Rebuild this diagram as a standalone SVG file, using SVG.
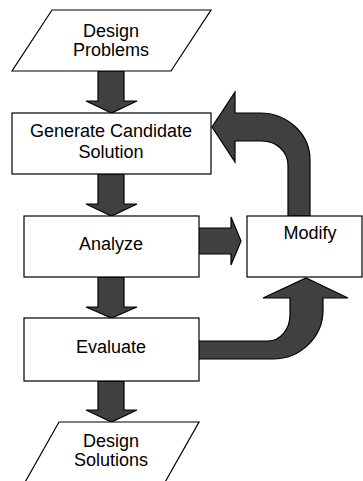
<svg xmlns="http://www.w3.org/2000/svg" width="363" height="481" viewBox="0 0 363 481">
<style>
.box{fill:#fff;stroke:#000;stroke-width:1.2}
.arr{fill:#404040;stroke:#000;stroke-width:1.2;stroke-linejoin:miter}
text{font-family:"Liberation Sans",Arial,sans-serif;font-size:18px;fill:#000;text-anchor:middle}
</style>
<rect width="363" height="481" fill="#fff"/>
<g id="connectors">
<path class="arr" d="M98,71 L124,71 L124,101 L137,101 L111.5,113 L86,101 L98,101 Z"/>
<path class="arr" d="M98,174 L124,174 L124,204 L137,204 L111.5,216 L86,204 L98,204 Z"/>
<path class="arr" d="M98,277 L124,277 L124,307 L137,307 L111.5,318 L86,307 L98,307 Z"/>
<path class="arr" d="M98,381 L124,381 L124,410 L137,410 L111.5,422 L86,410 L98,410 Z"/>
<path class="arr" d="M198,228 L231,228 L231,217 L241,241 L231,265 L231,254 L198,254 Z"/>
<path class="arr" d="M310,216 L310,160 A50 47 0 0 0 260,113 L235,113 L235,92 L212,127 L235,162 L235,141 L262,141 A26 24 0 0 1 288,165 L288,216 Z"/>
<path class="arr" d="M198,341 L268,341 A22 26 0 0 0 290,315 L290,298 L263,298 L306,278 L348,298 L323,298 L323,310 A50 49 0 0 1 273,359 L198,359 Z"/>
</g>
<g id="design-problems">
<polygon class="box" points="52,10 211,10 171,71 12,71"/>
<text x="111" y="37">Design</text>
<text x="111" y="56">Problems</text>
</g>
<g id="generate">
<rect class="box" x="12" y="113" width="199" height="61"/>
<text x="111" y="137">Generate Candidate</text>
<text x="111" y="158">Solution</text>
</g>
<g id="analyze">
<rect class="box" x="24" y="216" width="175" height="61"/>
<text x="111" y="250">Analyze</text>
</g>
<g id="modify">
<rect class="box" x="247" y="216" width="115" height="61"/>
<text x="310" y="239">Modify</text>
</g>
<g id="evaluate">
<rect class="box" x="24" y="318" width="175" height="63"/>
<text x="111" y="353">Evaluate</text>
</g>
<g id="design-solutions">
<polygon class="box" points="59,422 199,422 164,484 24,484"/>
<text x="111" y="447">Design</text>
<text x="111" y="466">Solutions</text>
</g>
</svg>
